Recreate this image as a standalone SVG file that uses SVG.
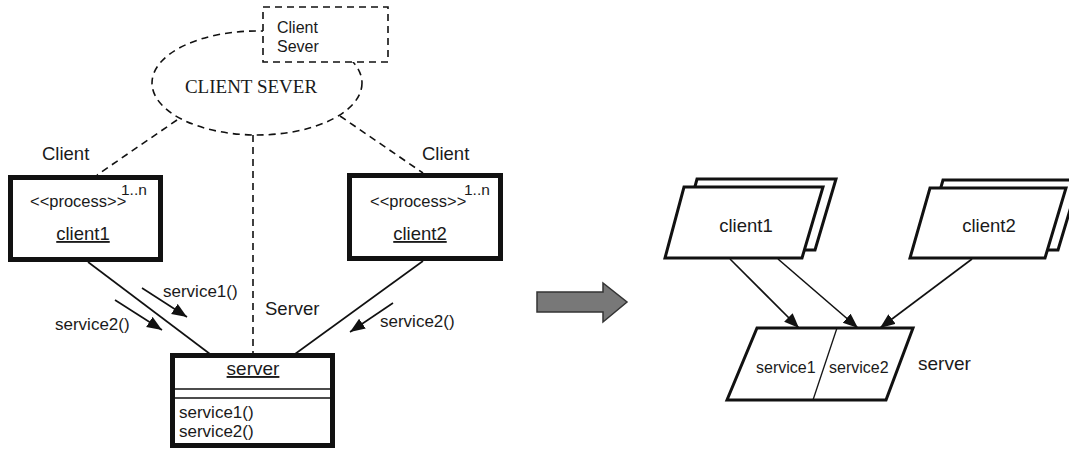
<svg xmlns="http://www.w3.org/2000/svg" width="1069" height="450" viewBox="0 0 1069 450">
<style>
.sans{font-family:"Liberation Sans",Arial,sans-serif;fill:#1a1a1a}
.serif{font-family:"Liberation Serif","Times New Roman",serif;fill:#1a1a1a}
.dash{fill:none;stroke:#111;stroke-width:1.6;stroke-dasharray:7 5}
.line{fill:none;stroke:#111;stroke-width:1.6}
.thick{fill:#fff;stroke:#111;stroke-width:5}
.para{fill:#fff;stroke:#111;stroke-width:3;stroke-linejoin:miter}
.u{text-decoration:underline}
</style>
<defs>
<marker id="ah" markerUnits="userSpaceOnUse" markerWidth="16" markerHeight="13" refX="15" refY="6" orient="auto">
<path d="M0,0 L15,6 L0,12 z" fill="#111"/>
</marker>
</defs>

<g id="connectors">
<line class="dash" x1="177" y1="120" x2="97" y2="175"/>
<line class="dash" x1="340" y1="116" x2="423" y2="173"/>
<line class="dash" x1="253" y1="135" x2="253" y2="353"/>
<line class="line" x1="88" y1="262" x2="210" y2="354"/>
<line class="line" x1="423" y1="261" x2="295" y2="354"/>
<line class="line" x1="142" y1="288" x2="187" y2="317" marker-end="url(#ah)"/>
<line class="line" x1="115" y1="300" x2="162" y2="330" marker-end="url(#ah)"/>
<line class="line" x1="393" y1="303" x2="350" y2="332" marker-end="url(#ah)"/>
<line class="line" x1="730" y1="259" x2="799" y2="328" marker-end="url(#ah)"/>
<line class="line" x1="778" y1="259" x2="858" y2="328" marker-end="url(#ah)"/>
<line class="line" x1="972" y1="259" x2="880" y2="328" marker-end="url(#ah)"/>
</g>

<g id="collab">
<ellipse class="dash" cx="257" cy="83" rx="105" ry="52"/>
<text class="serif" x="251" y="93" font-size="19" text-anchor="middle">CLIENT SEVER</text>
</g>

<g id="note">
<rect x="263" y="7" width="125" height="55" fill="#fff" stroke="#111" stroke-width="1.6" stroke-dasharray="7 5"/>
<text class="sans" x="277" y="33" font-size="16">Client</text>
<text class="sans" x="277" y="52" font-size="16">Sever</text>
</g>

<g id="role-labels">
<text class="sans" x="42" y="160" font-size="18.5">Client</text>
<text class="sans" x="422" y="160" font-size="18.5">Client</text>
<text class="sans" x="265" y="315" font-size="18.5">Server</text>
</g>

<g id="client1">
<rect class="thick" x="10.5" y="177.5" width="150" height="82"/>
<text class="sans" x="30" y="207" font-size="16.5">&lt;&lt;process&gt;&gt;</text>
<text class="sans" x="121" y="195" font-size="15.5">1..n</text>
<text class="sans u" x="83" y="240" font-size="18.5" text-anchor="middle">client1</text>
</g>

<g id="client2">
<rect class="thick" x="349.5" y="175.5" width="151" height="83"/>
<text class="sans" x="370" y="207" font-size="16.5">&lt;&lt;process&gt;&gt;</text>
<text class="sans" x="464" y="195" font-size="15.5">1..n</text>
<text class="sans u" x="420" y="240" font-size="18.5" text-anchor="middle">client2</text>
</g>

<g id="server">
<rect class="thick" x="172.5" y="355.5" width="160" height="90"/>
<line class="line" x1="172" y1="389" x2="333" y2="389"/>
<line class="line" x1="172" y1="398" x2="333" y2="398"/>
<text class="sans u" x="253" y="375" font-size="19" text-anchor="middle">server</text>
<text class="sans" x="179" y="418" font-size="17">service1()</text>
<text class="sans" x="179" y="437" font-size="17">service2()</text>
</g>

<g id="msg-labels">
<text class="sans" x="163" y="297" font-size="17">service1()</text>
<text class="sans" x="55" y="330" font-size="17">service2()</text>
<text class="sans" x="380" y="327" font-size="17">service2()</text>
</g>

<g id="transform-arrow">
<polygon points="537,292 603,292 603,283 627,302 603,322 603,312 537,312" fill="#787878" stroke="#333" stroke-width="1.5"/>
</g>

<g id="r-client1">
<polygon class="para" points="697,179 836,179 815,250 678,250"/>
<polygon class="para" points="684,187 823,187 802,258 665,258"/>
<text class="sans" x="746" y="232" font-size="18.5" text-anchor="middle">client1</text>
</g>

<g id="r-client2">
<polygon class="para" points="943,180 1079,180 1058,250 923,250"/>
<polygon class="para" points="930,188 1066,188 1045,258 910,258"/>
<text class="sans" x="989" y="232" font-size="18.5" text-anchor="middle">client2</text>
</g>

<g id="r-server">
<polygon class="para" points="757,328 913,328 886,400 727,400"/>
<line x1="837" y1="328" x2="813" y2="400" stroke="#111" stroke-width="1.3"/>
<text class="sans" x="756" y="373" font-size="16">service1</text>
<text class="sans" x="829" y="373" font-size="16">service2</text>
<text class="sans" x="918" y="370" font-size="19">server</text>
</g>
</svg>
